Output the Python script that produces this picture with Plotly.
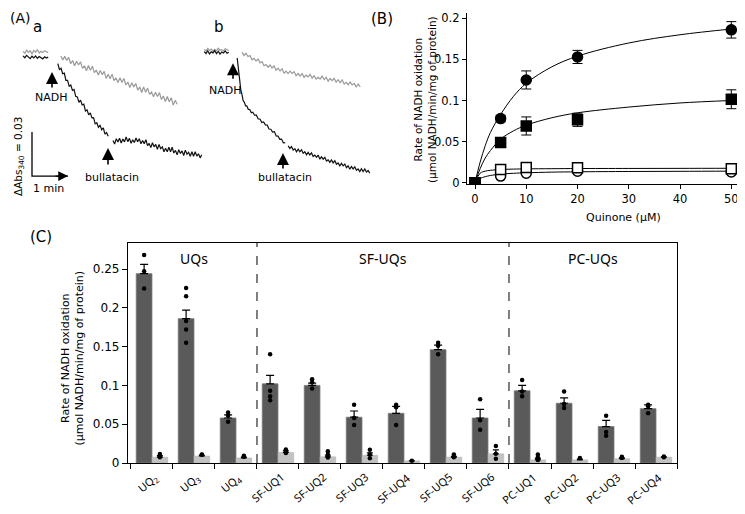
import numpy as np
import plotly.graph_objects as go

# ================= Panel A : absorbance traces (mA340 vs time, s) =================
a_pre_t = np.linspace(5, 47, 15)
a_pre_black = [-0.5, -1.8, -0.2, -1.5, -2.4, -0.8, -1.9, -0.6, -2.2, -1.0, -1.7, -2.6, -1.2, -2.0, -1.4]
a_pre_gray = [2.5, 1.2, 3.4, 1.8, 2.9, 0.9, 3.1, 2.0, 3.6, 1.4, 2.6, 1.7, 3.0, 2.2, 1.5]

a_gray_t = np.linspace(68, 262, 60)
a_gray = [-0.6, -3.4, -0.9, -3.7, -1.6, -5.9, -3.7, -7.3, -4.2, -6.8,
          -4.6, -9.1, -7.3, -10.7, -7.1, -10.4, -7.6, -12.0, -10.2, -13.6,
          -10.5, -13.3, -11.1, -15.9, -13.0, -16.1, -13.0, -17.4, -15.6, -18.8,
          -15.5, -18.7, -16.0, -20.4, -18.4, -22.1, -18.9, -21.7, -19.4, -23.9,
          -21.8, -25.5, -21.8, -25.3, -22.5, -26.8, -25.2, -28.4, -25.4, -28.3,
          -25.6, -30.3, -28.0, -31.7, -28.3, -31.8, -29.1, -34.1, -30.9, -33.5]

a_seg1_t = np.linspace(63, 147, 32)
a_seg1 = [-5.9, -9.8, -9.0, -12.7, -12.3, -17.3, -17.3, -21.3, -20.4, -24.1,
          -23.4, -28.1, -28.5, -32.2, -30.7, -34.0, -33.5, -38.1, -37.4, -40.8,
          -39.4, -42.8, -42.7, -46.9, -46.1, -49.2, -47.9, -50.9, -49.6, -53.9,
          -52.8, -55.4]

a_seg2_t = np.linspace(155, 303, 55)
a_seg2 = [-58.3, -60.7, -57.0, -59.3, -56.7, -60.0, -57.2, -59.2, -55.9, -59.0,
          -56.8, -60.2, -57.8, -59.6, -56.5, -59.1, -57.0, -60.5, -58.2, -60.5,
          -57.7, -61.8, -60.2, -63.1, -59.8, -62.6, -60.9, -64.2, -60.9, -63.8,
          -62.6, -65.9, -63.5, -65.9, -62.9, -65.9, -62.8, -66.8, -65.0, -68.0,
          -64.5, -67.1, -65.3, -68.5, -64.8, -67.6, -66.3, -69.0, -65.9, -69.0,
          -65.9, -68.9, -67.3, -70.1, -67.9]

b_pre_t = np.linspace(7, 48, 15)
b_pre_black = [2.4, 1.1, 2.9, 0.8, 2.2, 1.5, 3.0, 1.0, 2.6, 0.6, 2.1, 1.4, 2.8, 1.2, 1.9]
b_pre_gray = [3.8, 2.9, 4.5, 3.2, 4.1, 2.6, 3.9, 3.0, 4.6, 3.3, 3.7, 2.8, 4.3, 3.5, 3.1]

b_gray_t = np.linspace(70, 267, 60)
b_gray = [2.0, -0.3, 1.2, -1.0, -0.4, -3.3, -2.2, -4.1, -2.7, -5.3,
          -4.4, -7.3, -6.5, -8.3, -6.8, -8.8, -7.4, -10.3, -9.0, -10.8,
          -9.4, -12.4, -10.9, -12.6, -11.0, -12.5, -11.3, -14.1, -12.6, -14.3,
          -12.6, -15.2, -13.6, -14.9, -13.1, -15.7, -14.1, -16.3, -15.1, -16.4,
          -14.4, -16.7, -15.2, -17.8, -16.0, -17.4, -15.9, -18.5, -16.8, -18.8,
          -16.9, -19.8, -18.6, -20.2, -18.4, -20.4, -19.3, -21.7, -19.7, -21.7]

b_seg1_t = [62, 63.5, 65, 66.5, 68, 70, 72, 74, 76, 78, 80.5, 83, 85.5, 88, 91, 94,
            97, 100, 103, 106, 109, 112, 115, 118, 121, 124, 127, 130, 133, 136, 139, 142]
b_seg1 = [-2.0, -7.6, -14.3, -19.0, -23.7, -26.9, -31.2, -32.2, -34.7, -34.6,
          -37.0, -37.1, -39.4, -39.0, -41.0, -41.0, -43.6, -43.6, -46.0, -45.6,
          -47.6, -47.7, -50.4, -50.6, -52.5, -52.2, -55.1, -55.2, -57.5, -57.3,
          -59.9, -59.7]

b_seg2_t = np.linspace(147, 283, 50)
b_seg2 = [-61.9, -63.7, -62.4, -64.8, -63.8, -65.9, -64.1, -65.9, -64.6, -67.0,
          -65.9, -68.0, -66.3, -68.1, -66.7, -69.2, -68.2, -69.7, -68.2, -71.0,
          -69.4, -71.0, -69.7, -72.2, -71.4, -73.2, -71.5, -73.5, -72.0, -74.4,
          -73.5, -75.5, -73.8, -75.5, -74.3, -76.8, -75.5, -77.8, -76.0, -77.6,
          -76.2, -78.6, -77.6, -79.4, -77.5, -79.5, -77.7, -79.8, -78.7, -80.5]

scale_t = [20, 20, 80]
scale_a = [-52.5, -82.5, -82.5]

# ================= Panel B : kinetics =================
quinone = [0, 5, 10, 20, 50]
rate_fc = [0, 0.078, 0.125, 0.153, 0.186]
err_fc = [0, 0.004, 0.011, 0.008, 0.010]
rate_fs = [0, 0.049, 0.069, 0.0765, 0.1015]
err_fs = [0, 0.003, 0.011, 0.008, 0.0115]
rate_os = [0, 0.016, 0.0185, 0.018, 0.017]
err_os = [0, 0.002, 0.002, 0.002, 0.002]
rate_oc = [0, 0.008, 0.0115, 0.014, 0.013]
err_oc = [0, 0.001, 0.001, 0.001, 0.001]

fit_x = [0, 1, 2, 3, 5, 7.5, 10, 15, 20, 30, 40, 50]
fit_fc = [0, 0.025, 0.045, 0.061, 0.083, 0.105, 0.121, 0.141, 0.154, 0.170, 0.180, 0.187]
fit_fs = [0, 0.017, 0.030, 0.039, 0.053, 0.063, 0.070, 0.079, 0.085, 0.092, 0.097, 0.100]
fit_os = [0, 0.0115, 0.014, 0.015, 0.016, 0.0165, 0.0168, 0.017, 0.0172, 0.0173, 0.0174, 0.0175]
fit_oc = [0, 0.005, 0.0073, 0.0087, 0.0104, 0.0114, 0.012, 0.0128, 0.0132, 0.0136, 0.0138, 0.014]

# ================= Panel C : bar chart =================
c_labels = ["UQ<sub>2</sub>", "UQ<sub>3</sub>", "UQ<sub>4</sub>",
            "SF-UQ1", "SF-UQ2", "SF-UQ3", "SF-UQ4", "SF-UQ5", "SF-UQ6",
            "PC-UQ1", "PC-UQ2", "PC-UQ3", "PC-UQ4"]
dark_mean = [0.244, 0.186, 0.058, 0.102, 0.100, 0.059, 0.064, 0.146, 0.058, 0.093, 0.077, 0.047, 0.070]
dark_sem = [0.012, 0.011, 0.004, 0.011, 0.003, 0.008, 0.009, 0.006, 0.011, 0.007, 0.007, 0.008, 0.005]
dark_dots = [[0.268, 0.247, 0.225], [0.2255, 0.215, 0.183, 0.172, 0.155], [0.065, 0.061, 0.053],
             [0.140, 0.093, 0.086, 0.081], [0.108, 0.104, 0.096], [0.075, 0.058, 0.049],
             [0.075, 0.072, 0.049], [0.155, 0.151, 0.140], [0.082, 0.055, 0.043],
             [0.107, 0.092, 0.086], [0.092, 0.076, 0.071], [0.061, 0.040, 0.035],
             [0.075, 0.073, 0.064]]
light_mean = [0.0075, 0.009, 0.0065, 0.0135, 0.008, 0.010, 0.0028, 0.0075, 0.0118, 0.004, 0.004, 0.0055, 0.0075]
light_sem = [0.002, 0.001, 0.001, 0.002, 0.002, 0.003, 0.0, 0.001, 0.005, 0.002, 0.001, 0.001, 0.0005]
light_dots = [[0.0115, 0.0095, 0.0075], [0.011, 0.0105], [0.0095, 0.008],
              [0.0175, 0.0155, 0.013], [0.015, 0.011, 0.007], [0.017, 0.011, 0.006],
              [0.003], [0.011, 0.0075], [0.022, 0.012, 0.0055],
              [0.011, 0.0075, 0.004], [0.0065], [0.008, 0.0065], [0.0085, 0.0075]]
group_names = ["UQs", "SF-UQs", "PC-UQs"]
group_centers = [1, 5.5, 10.5]
group_dividers = [2.5, 8.5]

Y_TITLE = "Rate of NADH oxidation<br>(μmol NADH/min/mg of protein)"

# ---------------- geometry helpers (page pixel -> paper) ----------------
W, H = 745, 514
OX, OY = 8, 8          # page body margin offset
def px(x):
    return (x - OX) / W
def py(y):
    return 1 - (y - OY) / H

FONT = "DejaVu Sans"
fig = go.Figure()

# ---- Panel A traces ----
BLACK = "#111111"
GRAY = "#9a9a9a"
def line(x, y, color, xa, ya="y", w=1.2):
    fig.add_trace(go.Scatter(x=list(x), y=y, mode="lines", line=dict(color=color, width=w),
                             xaxis=xa, yaxis=ya, showlegend=False, hoverinfo="skip"))

line(a_pre_t, a_pre_gray, GRAY, "x")
line(a_pre_t, a_pre_black, BLACK, "x")
line(a_gray_t, a_gray, GRAY, "x")
line(a_seg1_t, a_seg1, BLACK, "x")
line(a_seg2_t, a_seg2, BLACK, "x")
line(b_pre_t, b_pre_gray, GRAY, "x2")
line(b_pre_t, b_pre_black, BLACK, "x2")
line(b_gray_t, b_gray, GRAY, "x2")
line(b_seg1_t, b_seg1, BLACK, "x2")
line(b_seg2_t, b_seg2, BLACK, "x2")
line(scale_t, scale_a, "black", "x", w=1.3)

# ---- Panel B traces ----
for fx, fy in [(fit_x, fit_oc), (fit_x, fit_os), (fit_x, fit_fs), (fit_x, fit_fc)]:
    fig.add_trace(go.Scatter(x=fx, y=fy, mode="lines", line=dict(color="black", width=1, shape="spline"),
                             xaxis="x3", yaxis="y3", showlegend=False, hoverinfo="skip"))

def pts(y, e, symbol, fill):
    fig.add_trace(go.Scatter(
        x=quinone, y=y, mode="markers", xaxis="x3", yaxis="y3", showlegend=False,
        marker=dict(symbol=symbol, size=10, color=fill, line=dict(color="black", width=1.5)),
        error_y=dict(type="data", array=e, color="black", thickness=1, width=5)))

pts(rate_oc, err_oc, "circle", "white")
pts(rate_os, err_os, "square", "white")
pts(rate_fc, err_fc, "circle", "black")
pts(rate_fs, err_fs, "square", "black")

# ---- Panel C traces ----
xs = list(range(len(c_labels)))
BW = 0.375
fig.add_trace(go.Bar(x=xs, y=dark_mean, width=BW, offset=-BW,
                     marker=dict(color="#5a5a5a", line=dict(color="#7a7a7a", width=0.8)),
                     error_y=dict(type="data", array=dark_sem, arrayminus=[0] * len(xs), symmetric=False,
                                  color="black", thickness=1.2, width=4),
                     xaxis="x4", yaxis="y4", showlegend=False))
fig.add_trace(go.Bar(x=xs, y=light_mean, width=BW, offset=0,
                     marker=dict(color="#c2c2c2", line=dict(color="#b0b0b0", width=0.5)),
                     error_y=dict(type="data", array=light_sem, arrayminus=[0] * len(xs), symmetric=False,
                                  color="black", thickness=1.2, width=3),
                     xaxis="x4", yaxis="y4", showlegend=False))
dx, dy = [], []
for i, vals in enumerate(dark_dots):
    dx += [i - BW / 2] * len(vals)
    dy += vals
lx, ly = [], []
for i, vals in enumerate(light_dots):
    lx += [i + BW / 2] * len(vals)
    ly += vals
fig.add_trace(go.Scatter(x=dx, y=dy, mode="markers", marker=dict(color="black", size=4.5),
                         xaxis="x4", yaxis="y4", showlegend=False, hoverinfo="skip"))
fig.add_trace(go.Scatter(x=lx, y=ly, mode="markers", marker=dict(color="black", size=4.5),
                         xaxis="x4", yaxis="y4", showlegend=False, hoverinfo="skip"))

# ---------------- axes ----------------
hidden = dict(visible=False, showgrid=False, zeroline=False, automargin=False)
common = dict(showgrid=False, zeroline=False, automargin=False, tickcolor="black",
              linecolor="black", ticks="outside")
A_Y = [-95.4, 23.9]
xC = [-0.571, 12.5]
fig.update_layout(
    template="none",
    width=W, height=H, margin=dict(l=0, r=0, t=0, b=0, autoexpand=False),
    paper_bgcolor="white", plot_bgcolor="rgba(0,0,0,0)",
    font=dict(family=FONT, size=11, color="black"),
    xaxis=dict(domain=[px(20), px(210)], range=[0, 316.7], anchor="y", **hidden),
    xaxis2=dict(domain=[px(200), px(372)], range=[0, 286.7], anchor="y", **hidden),
    yaxis=dict(domain=[py(195), py(20)], range=A_Y, anchor="x", **hidden),
    xaxis3=dict(domain=[px(466.8), px(739)], range=[-1.6, 51.5], anchor="y3",
                tickvals=[0, 10, 20, 30, 40, 50], ticklen=4,
                showline=True, linewidth=1, tickfont=dict(size=11.5), **common),
    yaxis3=dict(domain=[py(184.3), py(13.4)], range=[-0.002, 0.206], anchor="x3",
                tickvals=[0, 0.05, 0.1, 0.15, 0.2], ticktext=["0", "0.05", "0.1", "0.15", "0.2"],
                ticklen=4, showline=True, linewidth=1, tickfont=dict(size=11.5), **common),
    xaxis4=dict(domain=[px(128), px(677)], range=xC, anchor="y4",
                tickvals=[i - 0.5 for i in range(len(c_labels) + 1)], showticklabels=False,
                ticklen=5, showline=True, mirror=True, linewidth=1.2, **common),
    yaxis4=dict(domain=[py(463), py(243)], range=[0, 0.2835], anchor="x4",
                tickvals=[0, 0.05, 0.1, 0.15, 0.2, 0.25], ticktext=["0", "0.05", "0.1", "0.15", "0.2", "0.25"],
                ticklen=5, showline=True, mirror=True, linewidth=1.2, tickfont=dict(size=12), **common),
)

# dashed group dividers in C
for d in group_dividers:
    fig.add_shape(type="line", xref="x4", yref="y4 domain", x0=d, x1=d, y0=0, y1=1,
                  line=dict(color="black", width=1, dash="dash"))

ann = []
def text(x, y, s, xref="paper", yref="paper", size=11, family=FONT, xanchor="center",
         yanchor="middle", **kw):
    ann.append(dict(x=x, y=y, xref=xref, yref=yref, text=s, showarrow=False,
                    font=dict(size=size, family=family, color="black"),
                    xanchor=xanchor, yanchor=yanchor, **kw))
def arrow(x, y, xref, ayp, axp=0):
    ann.append(dict(x=x, y=y, xref=xref, yref="y", text="", showarrow=True, ax=axp, ay=ayp,
                    arrowhead=2, arrowsize=1.5, arrowwidth=1.6, arrowcolor="black"))

# panel letters
text(px(8), py(8), "(A)", size=14, xanchor="left", yanchor="top")
text(px(382.5), py(8), "(B)", size=15, yanchor="top")
text(px(40.5), py(237.5), "(C)", size=15)
text(px(37.5), py(27.5), "a", size=15)
text(px(219), py(26.7), "b", size=15)

# panel A arrows & labels
arrow(53.3, -11.6, "x", 17)
text(53.3, -28.6, "NADH", "x", "y", size=11)
arrow(146.7, -63.4, "x", 18)
text(153.3, -83.2, "bullatacin", "x", "y", size=11)
arrow(55, -5.5, "x2", 17)
text(41.7, -23.9, "NADH", "x2", "y", size=11)
arrow(138.3, -66.8, "x2", 17)
text(141.7, -83.8, "bullatacin", "x2", "y", size=11)
ann.append(dict(x=80, y=-82.5, xref="x", yref="y", text="", showarrow=True, ax=-14, ay=0,
                arrowhead=2, arrowsize=1.5, arrowwidth=1.3, arrowcolor="black"))
text(px(19), py(157), "ΔAbs<sub>340</sub> = 0.03", size=10.5, textangle=-90)
text(46.7, -91.3, "1 min", "x", "y", size=11)

# panel B axis titles
text(px(425), py(100), Y_TITLE, size=10.5, textangle=-90)
text(px(623), py(217), "Quinone (μM)", size=11)

# panel C axis title, group names
text(px(71.5), py(358), Y_TITLE, size=11, textangle=-90)
for name, c in zip(group_names, group_centers):
    text(c, 0.263, name, "x4", "y4", size=14, family="Noto Sans")

# panel C category labels (rotated)
for i, lab in enumerate(c_labels):
    text(i + 0.28, py(467), lab, "x4", "paper", size=11, family="Noto Sans",
         xanchor="right", yanchor="top", textangle=-40)

fig.update_layout(annotations=ann)
fig.write_html("out.html")
